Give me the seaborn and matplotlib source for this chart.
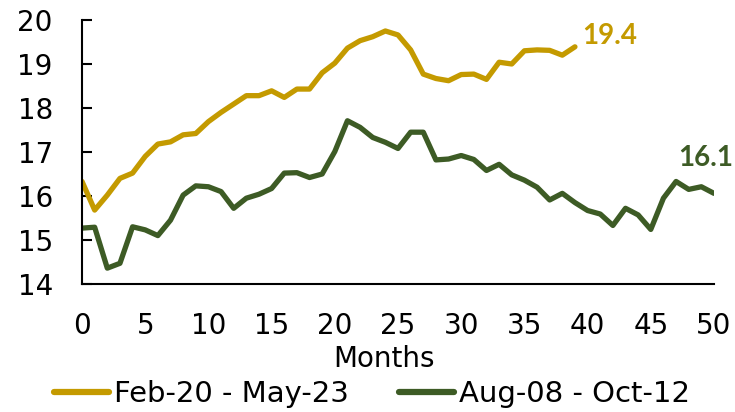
import numpy as np
import pandas as pd
import matplotlib
matplotlib.use("Agg")
import matplotlib.pyplot as plt
import seaborn as sns

# Values
months_recent = list(range(40))
recent = [16.33, 15.68, 16.02, 16.40, 16.52, 16.90, 17.18, 17.23, 17.39, 17.42,
          17.69, 17.90, 18.09, 18.28, 18.28, 18.39, 18.24, 18.43, 18.43, 18.80,
          19.02, 19.36, 19.53, 19.62, 19.75, 19.66, 19.32, 18.77, 18.67, 18.62,
          18.76, 18.77, 18.65, 19.04, 19.00, 19.30, 19.32, 19.31, 19.20, 19.39]

months_gfc = list(range(51))
gfc = [15.27, 15.29, 14.36, 14.47, 15.30, 15.23, 15.10, 15.45, 16.02, 16.23,
       16.21, 16.10, 15.72, 15.95, 16.04, 16.17, 16.52, 16.53, 16.42, 16.50,
       17.01, 17.71, 17.56, 17.33, 17.22, 17.08, 17.45, 17.45, 16.82, 16.84,
       16.92, 16.83, 16.58, 16.72, 16.48, 16.36, 16.20, 15.91, 16.06, 15.85,
       15.67, 15.59, 15.33, 15.72, 15.57, 15.24, 15.95, 16.33, 16.15, 16.21,
       16.06]

series_names = ["Feb-20 - May-23", "Aug-08 - Oct-12"]
colors = ["#C49A00", "#3D5B25"]
x_ticks = list(range(0, 51, 5))
y_ticks = list(range(14, 21))

df = pd.concat([
    pd.DataFrame({"month": months_recent, "value": recent, "period": series_names[0]}),
    pd.DataFrame({"month": months_gfc, "value": gfc, "period": series_names[1]}),
])

sns.set_style("white")
plt.rcParams["font.family"] = ["DejaVu Sans"]
plt.rcParams["text.color"] = "black"

fs = 20
fig = plt.figure(figsize=(7.35, 4.12), dpi=100)
ax = fig.add_axes([0.1116, 0.3107, 0.8598, 0.6408])

sns.lineplot(data=df, x="month", y="value", hue="period",
             palette=dict(zip(series_names, colors)), linewidth=3.8,
             ax=ax, legend=False)

ax.set_xlim(0, 50)
ax.set_ylim(14, 20)
ax.set_xticks(x_ticks)
ax.set_yticks(y_ticks)
ax.tick_params(axis="x", direction="inout", length=14, width=1.5,
               labelsize=fs, pad=13, color="black", labelcolor="black")
ax.tick_params(axis="y", direction="in", length=7, width=1.5,
               labelsize=fs, pad=21, color="black", labelcolor="black",
               left=True)
for side in ["top", "right"]:
    ax.spines[side].set_visible(False)
for side in ["left", "bottom"]:
    ax.spines[side].set_color("black")
    ax.spines[side].set_linewidth(1.5)

ax.set_xlabel("")
ax.set_ylabel("")
fig.text(384.5 / 735, 1 - 359 / 412, "Months", fontsize=fs, color="black",
         ha="center", va="center")

# end-of-line labels
ax.text(39.55, 19.63, f"{recent[-1]:.1f}", color=colors[0], fontsize=20,
        fontweight="bold", family="Lato", ha="left", va="center", clip_on=False)
ax.text(47.15, 16.86, f"{gfc[-1]:.1f}", color=colors[1], fontsize=20,
        fontweight="bold", family="Lato", ha="left", va="center", clip_on=False)

handles = [plt.Line2D([], [], color=c, linewidth=4.5, solid_capstyle="round")
           for c in colors]
fig.legend(handles, series_names, loc="center", bbox_to_anchor=(0.506, 0.044),
           ncol=2, frameon=False, fontsize=21, handlelength=1.9,
           handletextpad=0.17, columnspacing=1.7, borderaxespad=0,
           borderpad=0, labelcolor="black")

fig.savefig("out.png", dpi=100)
